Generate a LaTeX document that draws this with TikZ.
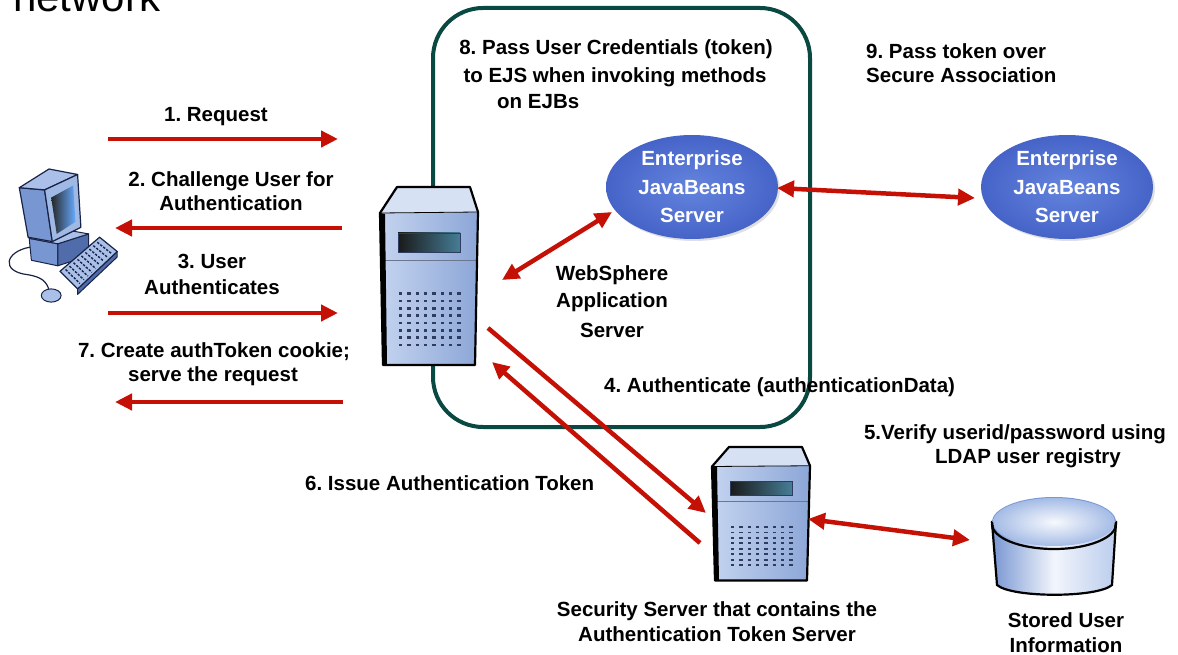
\documentclass[tikz,border=0pt]{standalone}
\usepackage{fontspec}
\setmainfont{Liberation Sans}
\usetikzlibrary{arrows.meta,shapes.geometric,shadows,calc}

\definecolor{arrowred}{RGB}{197,17,5}
\definecolor{boxteal}{RGB}{10,72,66}
\definecolor{ejbin}{RGB}{100,132,222}
\definecolor{ejbout}{RGB}{70,100,200}
\definecolor{towerlt}{RGB}{196,212,240}
\definecolor{towermd}{RGB}{140,166,215}
\definecolor{towertop}{RGB}{214,225,244}
\definecolor{towerdot}{RGB}{45,60,95}
\definecolor{screenteal}{RGB}{70,125,150}
\definecolor{pclt}{RGB}{170,192,232}
\definecolor{pcmd}{RGB}{120,150,210}
\definecolor{pcdk}{RGB}{80,108,170}
\definecolor{pcln}{RGB}{25,35,70}

% server tower: #1,#2 = top-left corner, #3 = vertical scale
\newcommand\towerdraw[3]{%
\begin{scope}[shift={(#1,#2)},yscale=#3]
  \path[shade,left color=towerlt,right color=towermd] (0,26) -- (98,25) -- (95,178) -- (3,178) -- cycle;
  \path[fill=towertop] (17,0) -- (90,0) -- (98,25) -- (0,26) -- cycle;
  \path[shade,left color=black!90,right color=screenteal] (18,46) rectangle (80,65);
  \draw[towerdot,line width=0.8pt] (18,46) rectangle (80,65);
  \draw[towerdot!70,line width=0.8pt] (1,73) -- (97,73);
  \foreach \i in {0,...,7}{\foreach \j in {0,...,7}{%
    \fill[towerdot] ({19+\i*8.3},{108+\j*7.3}) rectangle ++(3.4,-2.6);}}
  \fill[black] (0,26) -- (5,27) -- (7,178) -- (3,178) -- cycle;
  \draw[black,line width=2.2pt,line join=round] (17,0) -- (90,0) -- (98,25) -- (95,178) -- (3,178) -- (0,26) -- cycle;
  \draw[black,line width=0.8pt] (0,26) -- (98,25);
\end{scope}}

\begin{document}
\frenchspacing
\begin{tikzpicture}[x=1pt,y=-1pt,
  lbl/.style={font=\bfseries\fontsize{20.5}{24}\selectfont,inner sep=0pt},
  ejb/.style={ellipse,minimum width=172pt,minimum height=104pt,inner sep=0pt,
    inner color=ejbin,outer color=ejbout,text=white,align=center,
    font=\bfseries\fontsize{20.5}{28.5}\selectfont,
    drop shadow={opacity=0.25,shadow xshift=2pt,shadow yshift=-2pt}},
  redarr/.style={draw=arrowred,line width=4.5pt,-{Triangle[length=17pt,width=16pt]}},
  redboth/.style={draw=arrowred,line width=4.5pt,
    {Triangle[length=17pt,width=16pt]}-{Triangle[length=17pt,width=16pt]}}]
\useasboundingbox (0,0) rectangle (1178,655);
\clip (0,0) rectangle (1178,655);

% heading fragment, running off the top edge
\node[anchor=base west,inner sep=0pt,font=\fontsize{42}{50}\selectfont] (title) at (13,12) {network};

% application server boundary
\draw[boxteal,line width=4pt,rounded corners=50pt] (433,8) rectangle (810,427);

% client workstation
\begin{scope}[line join=round,shift={(60,235)},scale=1.1,shift={(-60,-235)}]
  \draw[pcln,line width=1.2pt] (33,246) .. controls (10,250) and (6,268) .. (30,271)
     .. controls (44,273) and (48,278) .. (50,285);
  % case
  \filldraw[fill=pcmd,draw=pcln,line width=1pt] (32,238) -- (58,243) -- (58,263) -- (34,258) -- cycle;
  \filldraw[fill=pcdk,draw=pcln,line width=1pt] (58,243) -- (86,234) -- (86,254) -- (58,263) -- cycle;
  \filldraw[fill=pclt,draw=pcln,line width=1pt] (32,238) -- (58,229) -- (86,234) -- (58,243) -- cycle;
  % monitor
  \filldraw[fill=pcmd,draw=pcln,line width=1.2pt] (23,192) -- (46,194) -- (53,241) -- (31,237) -- cycle;
  \filldraw[fill=pclt,draw=pcln,line width=1.2pt] (23,192) -- (50,175) -- (76,180) -- (46,194) -- cycle;
  \filldraw[fill=pclt!80!pcmd,draw=pcln,line width=1.2pt] (46,194) -- (76,180) -- (79,228) -- (53,241) -- cycle;
  \shade[left color=black!85,right color=cyan!45!blue!60] (52,201) -- (72,190) -- (74,223) -- (57,234) -- cycle;
  % keyboard
  \filldraw[fill=pcdk,draw=pcln,line width=1pt] (76,284) -- (112,250) -- (112,255) -- (76,289) -- cycle;
  \filldraw[fill=pclt,draw=pcln,line width=1.2pt] (60,268) -- (96,237) -- (112,250) -- (76,284) -- cycle;
  \foreach \t in {0.1,0.2,...,0.91}{%
    \draw[pcln,line width=1.4pt,dash pattern=on 2.4pt off 1.4pt]
      ($(60,268)!\t!(96,237)+(1.5,1.5)$) -- ($(76,284)!\t!(112,250)+(-1.5,-1.5)$);}
  % mouse
  \filldraw[fill=pclt,draw=pcln,line width=1pt] (52,290) ellipse [x radius=9,y radius=6];
\end{scope}

% servers
\towerdraw{380}{187}{1}
\towerdraw{712}{447}{0.75}

% LDAP registry store
\begin{scope}
  \shade[left color=pcmd,right color=pclt!80,middle color=white!85!pclt,draw=black,line width=2.2pt]
    (992,522) -- (997,585) .. controls (1012,598) and (1097,598) .. (1112,585) -- (1116,522) -- cycle;
  \fill[pcmd] (992,522) arc[start angle=180,end angle=360,x radius=62,y radius=25]
     -- (1116,528) arc[start angle=0,end angle=-180,x radius=62,y radius=25] -- cycle;
  \shade[inner color=white!90!pclt,outer color=pclt!90!pcmd] (1054,522) ellipse [x radius=61,y radius=24];
  \draw[black,line width=2.2pt] (992,524) arc[start angle=180,end angle=0,x radius=62,y radius=25];
  \draw[black,line width=2.2pt] (992,522) -- (993,530);
  \draw[black,line width=2.2pt] (1116,522) -- (1115,530);
\end{scope}

% enterprise bean servers
\node[ejb] (ejb1) at (692,187) {Enterprise\\JavaBeans\\Server};
\node[ejb] (ejb2) at (1067,187) {Enterprise\\JavaBeans\\Server};

% arrow end points
\coordinate (a1s) at (108,139);  \coordinate (a1e) at (338,139);
\coordinate (a2s) at (342,228);  \coordinate (a2e) at (115,228);
\coordinate (a3s) at (108,313);  \coordinate (a3e) at (338,313);
\coordinate (a7s) at (343,402);  \coordinate (a7e) at (115,402);
\coordinate (wsA) at (502,280);  \coordinate (ejbA) at (612,212);
\coordinate (ejbB) at (777,188); \coordinate (ejbC) at (975,198);
\coordinate (a4s) at (488,328);  \coordinate (a4e) at (706,513);
\coordinate (a6s) at (700,543);  \coordinate (a6e) at (492,362);
\coordinate (secA) at (808,519); \coordinate (regA) at (970,540);

\draw[redarr] (a1s) -- (a1e);
\draw[redarr] (a2s) -- (a2e);
\draw[redarr] (a3s) -- (a3e);
\draw[redarr] (a7s) -- (a7e);
\draw[redboth] (wsA) -- (ejbA);
\draw[redboth] (ejbB) -- (ejbC);
\draw[redarr] (a4s) -- (a4e);
\draw[redarr] (a6s) -- (a6e);
\draw[redboth] (secA) -- (regA);

% labels
\node[lbl,anchor=base] (t1) at (216,122) {1. Request};
\node[lbl,anchor=base] (t2a) at (231,187) {2. Challenge User for};
\node[lbl,anchor=base] (t2b) at (231,211) {Authentication};
\node[lbl,anchor=base] (t3a) at (212,269) {3. User};
\node[lbl,anchor=base] (t3b) at (212,294) {Authenticates};
\node[lbl,anchor=base] (t7a) at (214,357) {7. Create authToken cookie;};
\node[lbl,anchor=base] (t7b) at (213,381) {serve the request};
\node[lbl,anchor=base] (t8a) at (616,55) {8. Pass User Credentials (token)};
\node[lbl,anchor=base] (t8b) at (615,83) {to EJS when invoking methods};
\node[lbl,anchor=base west] (t8c) at (497,109) {on EJBs};
\node[lbl,anchor=base west] (t9a) at (866,59) {9. Pass token over};
\node[lbl,anchor=base west] (t9b) at (866,83) {Secure Association};
\node[lbl,anchor=base] (twa) at (612,280) {WebSphere};
\node[lbl,anchor=base] (twb) at (612,307) {Application};
\node[lbl,anchor=base] (twc) at (612,337) {Server};
\node[lbl,anchor=base west] (t4) at (604,392) {4. Authenticate (authenticationData)};
\node[lbl,anchor=base] (t5a) at (1015,439) {5.Verify userid/password using};
\node[lbl,anchor=base] (t5b) at (1028,463) {LDAP user registry};
\node[lbl,anchor=base west] (t6) at (305,490) {6. Issue Authentication Token};
\node[lbl,anchor=base] (tsa) at (717,616) {Security Server that contains the};
\node[lbl,anchor=base] (tsb) at (717,641) {Authentication Token Server};
\node[lbl,anchor=base] (tua) at (1066,627) {Stored User};
\node[lbl,anchor=base] (tub) at (1066,652) {Information};
\end{tikzpicture}
\end{document}
